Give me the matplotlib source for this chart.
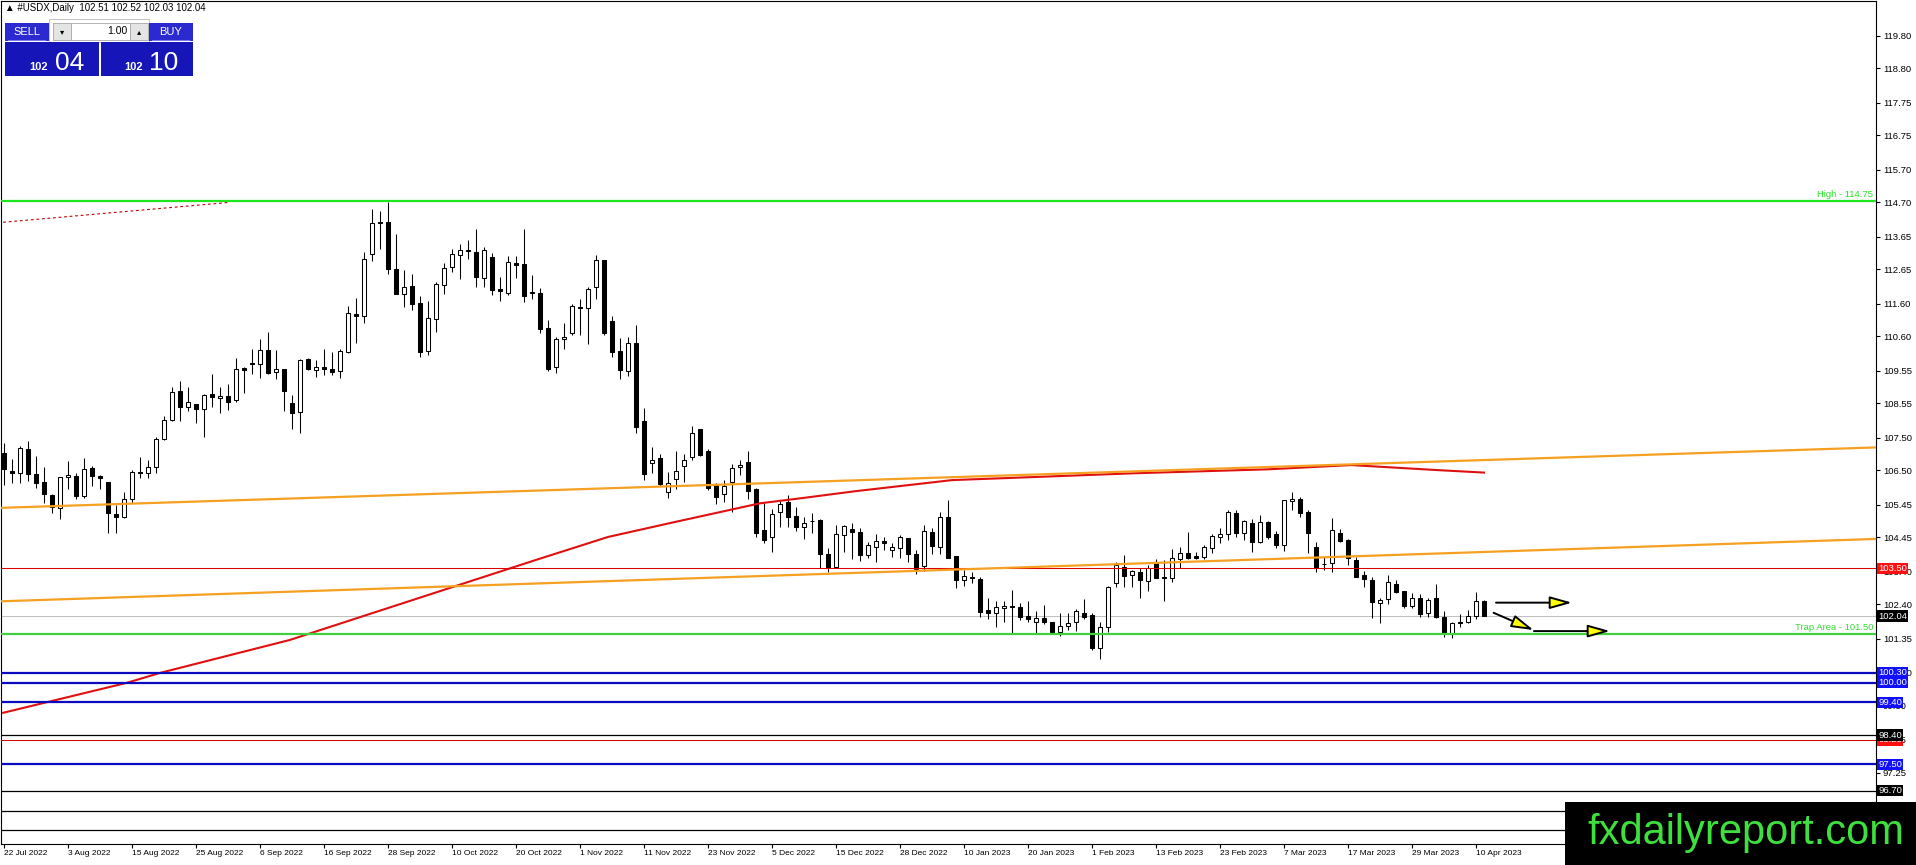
import matplotlib
matplotlib.use('Agg')
import matplotlib.pyplot as plt
from matplotlib.patches import Rectangle
from matplotlib import font_manager
import numpy as np

W, H = 1916, 865

# daily candles #USDX, bar 0 = 22 Jul 2022, last bar = 11 Apr 2023
opens = [107.02, 106.48, 106.41, 107.14, 106.38, 106.13, 105.75, 105.34, 106.29, 106.33,
         105.70, 106.57, 106.33, 106.13, 105.17, 105.06, 105.61, 106.44, 106.41, 106.59,
         107.45, 108.04, 108.92, 108.45, 108.52, 108.37, 108.83, 108.71, 108.77, 108.65,
         109.63, 109.78, 109.76, 110.17, 109.50, 109.59, 108.55, 108.28, 109.90, 109.56,
         109.65, 109.60, 109.53, 110.13, 111.28, 111.21, 113.12, 114.10, 114.10, 112.66,
         111.88, 112.14, 111.61, 110.14, 111.12, 112.16, 112.71, 113.08, 113.24, 113.17,
         112.37, 113.02, 112.04, 111.94, 112.83, 112.81, 111.95, 111.94, 110.84, 109.65,
         110.51, 110.70, 111.49, 111.46, 112.10, 112.93, 111.06, 110.15, 109.55, 110.39,
         108.01, 106.71, 106.87, 105.83, 106.22, 106.62, 106.92, 107.75, 107.09, 106.07,
         105.79, 106.15, 106.59, 106.74, 105.92, 104.67, 104.45, 105.21, 105.52, 105.10,
         104.75, 104.96, 104.98, 103.93, 103.55, 104.52, 104.69, 104.61, 103.90, 104.16,
         104.34, 104.05, 104.11, 104.42, 103.93, 103.57, 104.62, 104.14, 105.06, 103.87,
         103.14, 103.23, 103.17, 102.22, 102.12, 102.28, 102.35, 102.33, 102.03, 101.87,
         101.97, 101.87, 101.56, 101.75, 101.87, 102.14, 102.07, 101.07, 101.70, 103.04,
         103.55, 103.30, 103.40, 103.12, 103.65, 103.22, 103.21, 103.78, 103.98, 103.88,
         103.84, 104.11, 104.45, 104.54, 105.18, 104.57, 104.88, 104.32, 104.93, 104.55,
         104.20, 105.55, 105.63, 105.23, 104.14, 103.64, 103.67, 104.57, 104.37, 103.77,
         103.30, 103.14, 102.43, 102.55, 103.02, 102.81, 102.36, 102.58, 102.12, 102.58,
         102.00, 101.53, 101.85, 101.85, 102.04, 102.51]
highs = [107.33, 106.84, 107.25, 107.40, 106.94, 106.60, 105.78, 106.29, 106.79, 106.41,
         106.89, 106.63, 106.36, 106.13, 105.44, 105.83, 106.51, 106.92, 106.80, 107.51,
         108.16, 109.06, 109.24, 109.04, 108.52, 108.84, 109.45, 109.04, 109.13, 109.93,
         109.65, 110.20, 110.51, 110.72, 110.18, 109.59, 108.80, 109.90, 109.95, 109.86,
         110.20, 110.11, 110.22, 111.53, 111.77, 113.18, 114.49, 114.43, 114.72, 113.73,
         112.63, 112.51, 111.83, 111.68, 112.27, 112.85, 113.28, 113.44, 113.55, 113.87,
         113.34, 113.14, 112.42, 113.06, 113.06, 113.87, 112.47, 112.09, 111.10, 110.57,
         111.00, 111.59, 111.74, 112.12, 113.09, 112.93, 111.22, 110.54, 110.57, 110.96,
         108.42, 107.22, 107.00, 106.46, 107.09, 106.99, 107.85, 107.77, 107.14, 106.10,
         106.20, 106.69, 106.81, 107.08, 105.95, 105.49, 105.31, 105.56, 105.74, 105.37,
         105.08, 105.18, 105.00, 104.13, 104.82, 104.83, 104.88, 104.74, 104.32, 104.54,
         104.47, 104.27, 104.52, 104.42, 104.06, 104.83, 104.72, 105.22, 105.59, 103.88,
         103.45, 103.40, 103.23, 102.58, 102.50, 102.50, 102.83, 102.43, 102.49, 102.19,
         102.38, 101.87, 102.12, 102.12, 102.25, 102.55, 102.12, 101.85, 102.97, 103.70,
         103.91, 103.45, 103.50, 103.60, 103.78, 103.76, 104.08, 104.16, 104.62, 104.01,
         104.21, 104.54, 104.72, 105.29, 105.29, 104.98, 105.02, 105.12, 104.95, 104.65,
         105.59, 105.83, 105.67, 105.29, 104.32, 103.86, 105.03, 104.69, 104.39, 103.86,
         103.43, 103.23, 102.58, 103.30, 103.14, 102.81, 102.76, 102.72, 102.58, 103.02,
         102.20, 101.87, 102.09, 102.23, 102.77, 102.52]
lows = [106.05, 106.12, 106.12, 106.18, 105.95, 105.49, 105.19, 105.00, 105.93, 105.61,
        105.65, 106.03, 105.92, 104.57, 104.59, 105.03, 105.49, 106.26, 106.26, 106.43,
        107.43, 108.02, 108.02, 108.30, 107.94, 107.53, 108.43, 108.25, 108.33, 108.59,
        108.88, 109.45, 109.31, 109.46, 109.28, 108.30, 107.76, 107.63, 109.57, 109.37,
        109.42, 109.42, 109.32, 110.08, 110.41, 111.02, 112.91, 113.26, 112.50, 111.90,
        111.51, 111.42, 109.98, 110.03, 110.72, 111.88, 112.56, 112.34, 112.98, 112.10,
        112.10, 111.85, 111.69, 111.85, 112.37, 111.65, 111.73, 110.69, 109.55, 109.47,
        110.21, 110.64, 110.64, 110.37, 111.75, 110.64, 109.98, 109.30, 109.39, 107.65,
        106.20, 106.41, 106.03, 105.66, 105.92, 106.15, 106.83, 106.95, 105.90, 105.47,
        105.54, 105.21, 106.36, 105.63, 104.47, 104.27, 104.01, 104.75, 104.75, 104.65,
        104.39, 104.59, 103.52, 103.40, 103.50, 104.01, 103.78, 103.72, 103.81, 103.70,
        104.06, 103.84, 103.81, 103.70, 103.32, 103.42, 103.93, 103.93, 103.81, 102.89,
        102.97, 103.04, 102.02, 101.94, 101.72, 101.86, 101.51, 101.92, 101.87, 101.51,
        101.80, 101.51, 101.44, 101.61, 101.59, 101.94, 101.00, 100.73, 101.56, 102.94,
        102.94, 102.94, 102.58, 102.82, 103.19, 102.51, 103.09, 103.50, 103.78, 103.78,
        103.78, 103.96, 104.27, 104.37, 104.47, 104.37, 104.01, 104.29, 104.41, 104.11,
        104.03, 105.29, 105.08, 103.98, 103.40, 103.45, 103.38, 104.32, 103.60, 103.23,
        102.94, 101.99, 101.84, 102.41, 102.76, 102.30, 102.28, 102.00, 102.00, 101.99,
        101.39, 101.36, 101.72, 101.82, 101.94, 102.03]
closes = [106.53, 106.41, 107.17, 106.39, 106.10, 105.77, 105.39, 106.29, 106.35, 105.70,
          106.53, 106.33, 106.26, 105.19, 105.06, 105.61, 106.44, 106.41, 106.59, 107.45,
          108.04, 108.91, 108.45, 108.58, 108.37, 108.80, 108.74, 108.77, 108.60, 109.59,
          109.56, 109.75, 110.17, 109.49, 109.59, 108.92, 108.25, 109.87, 109.59, 109.66,
          109.59, 109.52, 110.14, 111.30, 111.23, 112.96, 114.06, 114.06, 112.65, 111.90,
          112.12, 111.58, 110.11, 111.15, 112.20, 112.69, 113.11, 113.24, 113.20, 112.40,
          113.24, 112.03, 111.98, 112.86, 112.77, 111.82, 111.93, 110.81, 109.60, 110.52,
          110.59, 111.53, 111.47, 112.04, 112.93, 110.69, 110.13, 109.57, 110.39, 107.81,
          106.38, 106.83, 106.08, 106.10, 106.49, 106.80, 107.65, 106.98, 105.95, 105.69,
          106.02, 106.56, 106.65, 105.86, 104.57, 104.37, 105.17, 105.46, 105.08, 104.75,
          104.88, 104.94, 103.93, 103.55, 104.54, 104.79, 104.60, 103.90, 104.20, 104.34,
          104.27, 104.15, 104.45, 103.93, 103.49, 104.63, 104.19, 105.06, 103.83, 103.14,
          103.27, 103.20, 102.17, 102.12, 102.31, 102.35, 102.33, 102.00, 101.94, 101.97,
          101.85, 101.56, 101.75, 101.84, 102.18, 102.02, 101.07, 101.70, 102.93, 103.59,
          103.28, 103.41, 103.14, 103.52, 103.21, 103.21, 103.81, 103.96, 103.81, 103.81,
          104.14, 104.49, 104.54, 105.23, 104.57, 104.95, 104.32, 104.92, 104.47, 104.20,
          105.58, 105.63, 105.18, 104.57, 103.55, 103.62, 104.67, 104.35, 103.82, 103.25,
          103.16, 102.48, 102.52, 103.07, 102.79, 102.36, 102.58, 102.11, 102.52, 102.00,
          101.53, 101.84, 101.83, 102.03, 102.49, 102.04]

date_labels = ['22 Jul 2022', '3 Aug 2022', '15 Aug 2022', '25 Aug 2022', '6 Sep 2022',
               '16 Sep 2022', '28 Sep 2022', '10 Oct 2022', '20 Oct 2022', '1 Nov 2022',
               '11 Nov 2022', '23 Nov 2022', '5 Dec 2022', '15 Dec 2022', '28 Dec 2022',
               '10 Jan 2023', '20 Jan 2023', '1 Feb 2023', '13 Feb 2023', '23 Feb 2023',
               '7 Mar 2023', '17 Mar 2023', '29 Mar 2023', '10 Apr 2023']
date_step = 8

price_ticks = [119.80, 118.80, 117.75, 116.75, 115.70, 114.70, 113.65, 112.65, 111.60,
               110.60, 109.55, 108.55, 107.50, 106.50, 105.45, 104.45, 103.40, 102.40,
               101.35, 100.30, 99.30, 98.25, 97.25, 96.20]

# levels drawn on the chart
high_level = 114.75
trap_level = 101.50
bid_level = 102.04
red_levels = [103.50, 98.25]
blue_levels = [100.30, 100.00, 99.40, 97.50]
black_levels = [98.40, 96.70, 96.07, 95.49]

# price channel (bar index, price)
channel_x = [-0.5, 234.0]
channel_upper = [105.35, 107.20]
channel_lower = [102.49, 104.40]

# moving average
ma_x = [-0.1, 15.4, 19.5, 35.75, 66.4, 75.5, 83.9, 94.5, 100.1, 106.4, 118.5, 141.4,
        158.0, 168.4, 178.9, 185.0]
ma_y = [99.08, 100.00, 100.30, 101.31, 103.75, 104.46, 104.92, 105.49, 105.66, 105.86,
        106.20, 106.41, 106.53, 106.66, 106.51, 106.43]

# dotted line at top left
dots_x = [-0.1, 28.25]
dots_y = [114.09, 114.70]

# yellow arrows (x0, y0, x1, y1)
arrows = [(186.5, 102.45, 196.0, 102.45),
          (186.2, 102.14, 191.2, 101.61),
          (191.25, 101.58, 200.75, 101.58)]

# coloured price tags on the axis
tag_blue = '#1010ff'
tags = [(103.50, '103.50', '#ff1010'), (102.04, '102.04', 'black'),
        (100.30, '100.30', tag_blue), (100.00, '100.00', tag_blue),
        (99.40, '99.40', tag_blue), (98.25, '98.25', '#ff1010'),
        (98.40, '98.40', 'black'), (97.50, '97.50', tag_blue),
        (96.70, '96.70', 'black')]

names = {f.name for f in font_manager.fontManager.ttflist}
narrow = 'Liberation Sans Narrow' in names
small = ['Liberation Sans Narrow'] if narrow else ['Liberation Sans']
small = small + ['DejaVu Sans']
plt.rcParams['font.family'] = ['Liberation Sans', 'DejaVu Sans']

fig = plt.figure(figsize=(W / 100, H / 100), dpi=100)
fig.patch.set_facecolor('white')

# pixel layout of the price area
left_px, right_px, top_px, bottom_px = 1, 1876, 1, 844
ax = fig.add_axes([left_px / W, (H - bottom_px) / H, (right_px - left_px) / W, (bottom_px - top_px) / H])

# price scale: 101.50 sits at y=633.7 px, 32.68 px per point
def px_to_price(y):
    return 101.5 - (y - 633.7) / 32.68

ax.set_ylim(px_to_price(bottom_px), px_to_price(top_px))
ax.set_xlim((left_px - 4) / 8, (right_px - 4) / 8)

o = np.array(opens); h = np.array(highs); l = np.array(lows); c = np.array(closes)
x = np.arange(len(o))
up = c >= o
bot = np.minimum(o, c)
hgt = np.maximum(np.abs(c - o), 0.004)

ax.vlines(x, l, h, color='black', lw=0.75, zorder=2)
ax.bar(x[up], hgt[up], bottom=bot[up], width=0.58, facecolor='white', edgecolor='black', lw=0.75, zorder=2.5)
ax.bar(x[~up], hgt[~up], bottom=bot[~up], width=0.58, facecolor='black', edgecolor='black', lw=0.75, zorder=2.5)

# moving average
ax.plot(ma_x, ma_y, color='#e01010', lw=1.5, zorder=3, solid_joinstyle='round')

# horizontal levels
ax.axhline(bid_level, color='#c0c0c0', lw=0.75, zorder=1)
for v in red_levels:
    ax.axhline(v, color='#dd0000', lw=0.75, zorder=4)
for v in black_levels:
    ax.axhline(v, color='black', lw=0.9, zorder=4)
for v in blue_levels:
    ax.axhline(v, color='#0a0ac0', lw=1.6, zorder=4)
ax.axhline(high_level, color='#1ee61e', lw=1.6, zorder=4)
ax.axhline(trap_level, color='#40d040', lw=1.6, zorder=4)

ax.text(0.9985, high_level + 0.05, 'High - 114.75', transform=ax.get_yaxis_transform(),
        ha='right', va='bottom', color='#22e022', fontsize=6.8, zorder=5)
ax.text(0.9985, trap_level + 0.05, 'Trap Area - 101.50', transform=ax.get_yaxis_transform(),
        ha='right', va='bottom', color='#33dd33', fontsize=6.8, zorder=5)

# channel
ax.plot(channel_x, channel_upper, color='#f5a020', lw=1.6, zorder=4)
ax.plot(channel_x, channel_lower, color='#f5a020', lw=1.6, zorder=4)
ax.plot(dots_x, dots_y, color='#c00000', lw=0.8, ls=(0, (2.5, 2.5)), zorder=4)

for x0, y0, x1, y1 in arrows:
    ax.annotate('', xy=(x1, y1), xytext=(x0, y0),
                arrowprops=dict(arrowstyle='-|>,head_length=1.35,head_width=0.38',
                                fc='#ffff00', ec='black', lw=1.4, mutation_scale=10,
                                shrinkA=0, shrinkB=0), zorder=6)

# axes look
for s in ax.spines.values():
    s.set_linewidth(0.8)
    s.set_color('black')
ax.yaxis.tick_right()
ax.set_yticks(price_ticks)
ax.set_yticklabels([f'{v:.2f}' for v in price_ticks])
ax.tick_params(axis='y', direction='out', length=3, width=0.8, labelsize=6.8, pad=2)
ax.set_xticks([k * date_step for k in range(len(date_labels))])
ax.set_xticklabels(date_labels)
ax.tick_params(axis='x', direction='out', length=3, width=0.8, pad=1.5)
for lab in ax.get_xticklabels():
    lab.set_ha('left')
    lab.set_family(small)
    lab.set_fontsize(6.8 if narrow else 6.0)

for v, s, col in tags:
    ax.text(1.0012, v, s, transform=ax.get_yaxis_transform(), ha='left', va='center',
            color='white', fontsize=6.8, clip_on=False, zorder=7,
            bbox=dict(boxstyle='square,pad=0.12', fc=col, ec='none'))

# figure level decorations, pixel boxes (top-down)
def fig_box(x0, y0, x1, y1, **kw):
    fig.patches.append(Rectangle((x0 / W, 1 - y1 / H), (x1 - x0) / W, (y1 - y0) / H,
                                 transform=fig.transFigure, **kw))

def fig_text(px, py, s, **kw):
    fig.text(px / W, 1 - py / H, s, **kw)

fig_text(5, 8, '\u25b2 #USDX,Daily  102.51 102.52 102.03 102.04', fontsize=7, va='center',
         family=['Liberation Sans', 'DejaVu Sans'])

# one-click trading panel
fig_box(49, 19, 149, 42, fc='white', ec='#b8b8b8', lw=0.6, zorder=10)
fig_box(5, 23, 49, 41, fc='#2a2ad0', ec='none', zorder=11)
fig_box(149, 23, 193, 41, fc='#2a2ad0', ec='none', zorder=11)
fig_box(8, 40, 46, 41, fc='#7a7ae8', ec='none', zorder=12)
fig_box(152, 40, 190, 41, fc='#7a7ae8', ec='none', zorder=12)
fig_box(53, 23, 71, 40, fc='#e4e4e4', ec='#a8a8a8', lw=0.6, zorder=11)
fig_box(71, 23, 130, 40, fc='white', ec='#a8a8a8', lw=0.6, zorder=11)
fig_box(130, 23, 148, 40, fc='#e4e4e4', ec='#a8a8a8', lw=0.6, zorder=11)
fig_box(5, 42, 99, 76, fc='#1515b8', ec='none', zorder=11)
fig_box(101, 42, 193, 76, fc='#1515b8', ec='none', zorder=11)
fig_text(27, 32, 'SELL', color='white', fontsize=8, ha='center', va='center', zorder=13)
fig_text(171, 32, 'BUY', color='white', fontsize=8, ha='center', va='center', zorder=13)
fig_text(62, 31.5, '\u25be', color='black', fontsize=6, ha='center', va='center', zorder=13,
         family=['DejaVu Sans'])
fig_text(139, 31.5, '\u25b4', color='black', fontsize=6, ha='center', va='center', zorder=13,
         family=['DejaVu Sans'])
fig_text(127, 31.5, '1.00', color='black', fontsize=7.5, ha='right', va='center', zorder=13)
big = small[:1] + ['Liberation Sans']
fig_text(29, 70, '102', color='white', fontsize=8, weight='bold', ha='left', va='baseline', zorder=13)
fig_text(55, 70, '04', color='white', fontsize=22 if narrow else 19, ha='left', va='baseline',
         zorder=13, family=big)
fig_text(124, 70, '102', color='white', fontsize=8, weight='bold', ha='left', va='baseline', zorder=13)
fig_text(149, 70, '10', color='white', fontsize=22 if narrow else 19, ha='left', va='baseline',
         zorder=13, family=big)

# watermark
fig_box(1565, 802, W, H, fc='black', ec='none', zorder=20)
fig_text(1904, 844, 'fxdailyreport.com', color='#3ee03e', fontsize=30, ha='right',
         va='baseline', zorder=21)

fig.savefig('out.png', dpi=100, facecolor='white')
